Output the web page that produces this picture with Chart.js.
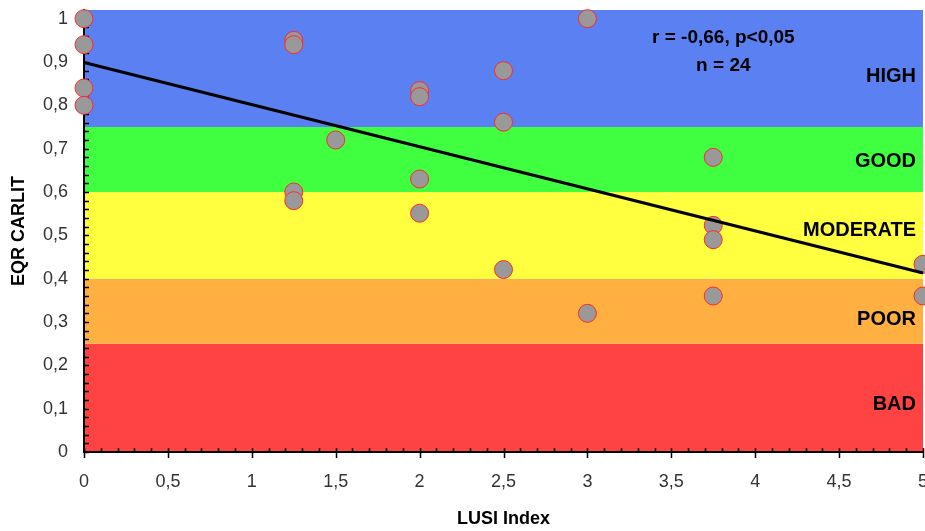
<!DOCTYPE html>
<html lang="en">
<head>
  <meta charset="UTF-8">
  <title>EQR CARLIT vs LUSI Index</title>
  <script src="https://cdn.jsdelivr.net/npm/chart.js"></script>
  <style>
    html, body { margin: 0; padding: 0; background: #fff; }
    #wrap { width: 925px; height: 531px; }
  </style>
</head>
<body>
  <div id="wrap"><canvas id="eqrChart"></canvas></div>

  <script>
    // site values
    const lusiValues = [0, 0, 0, 0, 1.25, 1.25, 1.25, 1.25, 1.5, 2, 2, 2, 2, 2.5, 2.5, 2.5, 3, 3, 3.75, 3.75, 3.75, 3.75, 5, 5];
    const eqrValues = [1.0, 0.94, 0.84, 0.80, 0.95, 0.94, 0.60, 0.58, 0.72, 0.834, 0.82, 0.63, 0.551, 0.88, 0.761, 0.421, 1.0, 0.32, 0.68, 0.523, 0.49, 0.36, 0.433, 0.36];

    // regression line end points
    const fitX = [0, 5];
    const fitY = [0.899, 0.413];

    // tick labels
    const xTicks = [0, 0.5, 1, 1.5, 2, 2.5, 3, 3.5, 4, 4.5, 5];
    const yTicks = [0, 0.1, 0.2, 0.3, 0.4, 0.5, 0.6, 0.7, 0.8, 0.9, 1];

    // quality classes (lower bound, upper bound, label y)
    const classNames = ['BAD', 'POOR', 'MODERATE', 'GOOD', 'HIGH'];
    const classFrom = [0, 0.25, 0.4, 0.6, 0.75];
    const classTo = [0.25, 0.4, 0.6, 0.75, 1.02];
    const classLabelY = [0.109, 0.306, 0.511, 0.670, 0.866];
    const classColors = ['#FF4242', '#FFB040', '#FFFF40', '#40FF40', '#5B80F2'];

    const statLines = ['r = -0,66, p<0,05', 'n = 24'];
    const statX = 3.81;
    const statY = [0.955, 0.892];

    const fmt = v => String(Math.round(v * 10) / 10).replace('.', ',');

    const bandsPlugin = {
      id: 'bands',
      beforeDraw(chart) {
        const { ctx, chartArea, scales } = chart;
        ctx.save();
        for (let i = 0; i < classNames.length; i++) {
          const yTop = scales.y.getPixelForValue(classTo[i]);
          const yBot = scales.y.getPixelForValue(classFrom[i]);
          ctx.fillStyle = classColors[i];
          ctx.fillRect(chartArea.left, yTop, chartArea.right - chartArea.left, yBot - yTop);
        }
        ctx.restore();
      },
      beforeDatasetsDraw(chart) {
        // minor and major tick marks
        const { ctx, chartArea, scales } = chart;
        ctx.save();
        ctx.strokeStyle = '#000';
        ctx.lineWidth = 1.5;
        ctx.beginPath();
        for (let k = 0; k <= 50; k++) {
          const px = Math.round(scales.x.getPixelForValue(k / 10)) + 0.5;
          const major = k % 5 === 0;
          ctx.moveTo(px, chartArea.bottom - 4);
          ctx.lineTo(px, chartArea.bottom + (major ? 6 : 0));
        }
        for (let k = 0; k <= 50; k++) {
          const py = Math.round(scales.y.getPixelForValue(k / 50)) + 0.5;
          ctx.moveTo(chartArea.left, py);
          ctx.lineTo(chartArea.left + 5, py);
        }
        ctx.stroke();

        // class labels
        ctx.fillStyle = '#000';
        ctx.font = 'bold 20px "Liberation Sans", Arial, sans-serif';
        ctx.textAlign = 'right';
        ctx.textBaseline = 'middle';
        for (let i = 0; i < classNames.length; i++) {
          ctx.fillText(classNames[i], chartArea.right - 7, scales.y.getPixelForValue(classLabelY[i]));
        }

        // statistics
        ctx.font = 'bold 19px "Liberation Sans", Arial, sans-serif';
        ctx.textAlign = 'center';
        for (let i = 0; i < statLines.length; i++) {
          ctx.fillText(statLines[i], scales.x.getPixelForValue(statX), scales.y.getPixelForValue(statY[i]));
        }
        ctx.restore();
      }
    };

    const points = lusiValues.map((x, i) => ({ x: x, y: eqrValues[i] }));
    const fitLine = fitX.map((x, i) => ({ x: x, y: fitY[i] }));

    const ctx = document.getElementById('eqrChart').getContext('2d');
    const chart = new Chart(ctx, {
      type: 'scatter',
      data: {
        datasets: [
          {
            label: 'sites',
            data: points,
            backgroundColor: '#999999',
            borderColor: '#FF2A2A',
            borderWidth: 1,
            pointRadius: 9,
            order: 2
          },
          {
            type: 'line',
            label: 'fit',
            data: fitLine,
            borderColor: '#000',
            borderWidth: 3,
            pointRadius: 0,
            fill: false,
            order: 1
          }
        ]
      },
      options: {
        responsive: true,
        maintainAspectRatio: false,
        animation: false,
        clip: false,
        layout: { autoPadding: false, padding: { top: 10, right: 2, left: 0, bottom: 0 } },
        plugins: {
          legend: { display: false },
          tooltip: { enabled: false }
        },
        scales: {
          x: {
            type: 'linear',
            min: 0,
            max: 5,
            grid: { display: false, drawTicks: false },
            border: { display: true, color: '#000', width: 2 },
            afterBuildTicks(scale) {
              scale.ticks = xTicks.map(v => ({ value: v }));
            },
            ticks: {
              padding: 19,
              color: '#333',
              font: { family: '"Liberation Sans", Arial, sans-serif', size: 18 },
              maxRotation: 0,
              autoSkip: false,
              callback: v => fmt(v)
            },
            title: {
              display: true,
              text: 'LUSI Index',
              color: '#000',
              font: { family: '"Liberation Sans", Arial, sans-serif', size: 18, weight: 'bold' },
              padding: { top: 0, bottom: 1 }
            },
            afterFit(scale) {
              scale.height = 79;
              scale.paddingLeft = 0;
              scale.paddingRight = 0;
            }
          },
          y: {
            min: 0,
            max: 1.02,
            grid: { display: false, drawTicks: false },
            border: { display: true, color: '#000', width: 2 },
            afterBuildTicks(scale) {
              scale.ticks = yTicks.map(v => ({ value: v }));
            },
            ticks: {
              padding: 16,
              color: '#333',
              autoSkip: false,
              font: { family: '"Liberation Sans", Arial, sans-serif', size: 18 },
              callback: v => fmt(v)
            },
            title: {
              display: true,
              text: 'EQR CARLIT',
              color: '#000',
              font: { family: '"Liberation Sans", Arial, sans-serif', size: 18, weight: 'bold' },
              padding: { top: 8, bottom: 0 }
            },
            afterFit(scale) {
              scale.width = 84;
              scale.paddingTop = 0;
              scale.paddingBottom = 0;
            }
          }
        }
      },
      plugins: [bandsPlugin]
    });
  </script>
</body>
</html>
